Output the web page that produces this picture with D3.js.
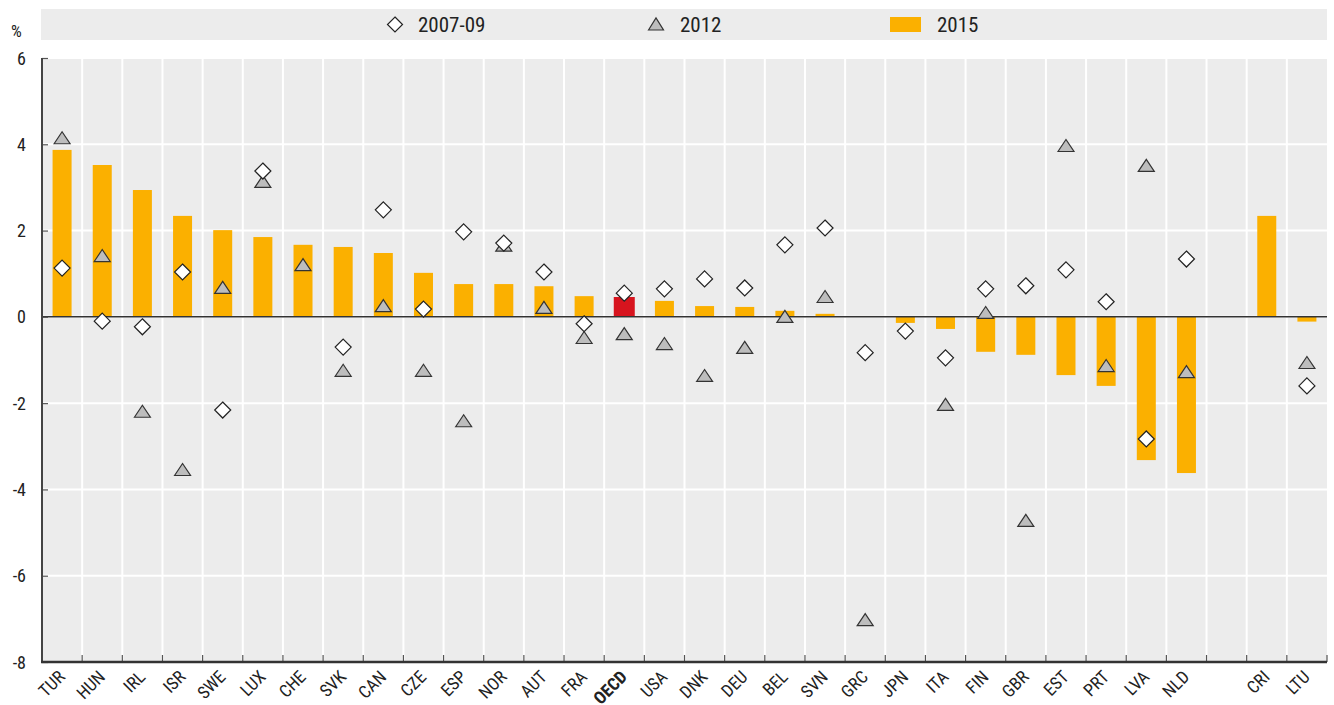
<!DOCTYPE html>
<html>
<head>
<meta charset="utf-8">
<script src="https://cdn.jsdelivr.net/npm/d3@7"></script>
<style>
  body { margin: 0; background: #fff; }
  text { font-family: "Liberation Sans Narrow", "Arial Narrow", "Roboto Condensed", "Liberation Sans", sans-serif; fill: #222; }
</style>
</head>
<body>
<div id="chart"></div>
<script>
    var countries = ["TUR","HUN","IRL","ISR","SWE","LUX","CHE","SVK","CAN","CZE","ESP","NOR","AUT","FRA","OECD",
      "USA","DNK","DEU","BEL","SVN","GRC","JPN","ITA","FIN","GBR","EST","PRT","LVA","NLD","","CRI","LTU"];
    var v2015 = [3.87,3.52,2.94,2.34,2.01,1.85,1.67,1.62,1.48,1.02,0.76,0.76,0.71,0.48,0.46,
      0.37,0.25,0.23,0.14,0.07,0.02,-0.14,-0.28,-0.81,-0.88,-1.35,-1.60,-3.32,-3.62,null,2.34,-0.11];
    var v2007 = [1.13,-0.10,-0.23,1.04,-2.16,3.38,null,-0.70,2.48,0.18,1.97,1.71,1.04,-0.16,0.55,
      0.65,0.88,0.67,1.67,2.06,-0.83,-0.33,-0.95,0.65,0.72,1.09,0.35,-2.83,1.34,null,null,-1.60];
    var v2012 = [4.14,1.41,-2.20,-3.55,0.67,3.13,1.20,-1.25,0.25,-1.25,-2.42,1.65,0.21,-0.49,-0.40,
      -0.63,-1.37,-0.72,0.00,0.46,-7.03,null,-2.04,0.09,-4.73,3.96,-1.14,3.50,-1.28,null,null,-1.07];
    var yTicks = [6,4,2,0,-2,-4,-6,-8];

    var clrBar = "#fbb000";
    var clrOECD = "#d7141e";
    var W = 1334, H = 705;
    var m = { left: 42, right: 7, top: 58, bottom: 43 };

    var svg = d3.select("#chart").append("svg").attr("width", W).attr("height", H);

    var keys = countries.map(function (d, i) { return i; });
    var x = d3.scaleBand().domain(keys).range([m.left, W - m.right]);
    var y = d3.scaleLinear().domain([-8, 6]).range([H - m.bottom, m.top]);

    // legend strip
    svg.append("rect").attr("x", 41).attr("y", 9).attr("width", W - m.right - 41).attr("height", 31).attr("fill", "#ececec");
    var ly = 24.5;
    svg.append("path").attr("d", "M0,-7.5L7.5,0L0,7.5L-7.5,0Z")
      .attr("transform", "translate(395," + ly + ")")
      .attr("fill", "#fff").attr("stroke", "#222").attr("stroke-width", 1.2);
    svg.append("text").attr("x", 418).attr("y", ly + 7.5).style("font-size", "21px").text("2007-09");
    svg.append("path").attr("d", "M-7.5,5.5L0,-6.5L7.5,5.5Z")
      .attr("transform", "translate(656," + ly + ")")
      .attr("fill", "#bdbdbd").attr("stroke", "#333").attr("stroke-width", 1.2);
    svg.append("text").attr("x", 680).attr("y", ly + 7.5).style("font-size", "21px").text("2012");
    svg.append("rect").attr("x", 890).attr("y", 17).attr("width", 31).attr("height", 15).attr("fill", clrBar);
    svg.append("text").attr("x", 937).attr("y", ly + 7.5).style("font-size", "21px").text("2015");

    // plot background
    svg.append("rect").attr("x", m.left).attr("y", m.top)
      .attr("width", W - m.right - m.left).attr("height", H - m.bottom - m.top).attr("fill", "#ececec");

    // grid
    svg.append("g").selectAll("line").data(yTicks.filter(function (t) { return t > -8; }))
      .enter().append("line")
      .attr("x1", m.left).attr("x2", W - m.right)
      .attr("y1", function (d) { return y(d); }).attr("y2", function (d) { return y(d); })
      .attr("stroke", "#fff").attr("stroke-width", 2);
    svg.append("g").selectAll("line").data(keys.slice(1))
      .enter().append("line")
      .attr("x1", function (d) { return x(d); }).attr("x2", function (d) { return x(d); })
      .attr("y1", m.top).attr("y2", H - m.bottom)
      .attr("stroke", "#fff").attr("stroke-width", 2);

    // bars
    svg.append("g").selectAll("rect").data(keys.filter(function (i) { return v2015[i] !== null; }))
      .enter().append("rect")
      .attr("x", function (i) { var w = countries[i] === "OECD" ? 21 : 19; return x(i) + x.bandwidth() / 2 - w / 2; })
      .attr("width", function (i) { return countries[i] === "OECD" ? 21 : 19; })
      .attr("y", function (i) { return y(Math.max(0, v2015[i])); })
      .attr("height", function (i) { return Math.abs(y(v2015[i]) - y(0)); })
      .attr("fill", function (i) { return countries[i] === "OECD" ? clrOECD : clrBar; });

    // zero line
    svg.append("line").attr("x1", m.left).attr("x2", W - m.right)
      .attr("y1", y(0)).attr("y2", y(0)).attr("stroke", "#333").attr("stroke-width", 1.5);

    // axes
    var yAxis = d3.axisRight(y).tickValues(yTicks).tickSize(6).tickFormat("");
    var gy = svg.append("g").attr("transform", "translate(" + m.left + ",0)").call(yAxis);
    gy.select(".domain").remove();
    gy.selectAll("line").attr("stroke", "#555").attr("stroke-width", 1.2);
    svg.append("line").attr("x1", m.left).attr("x2", m.left).attr("y1", m.top).attr("y2", H - m.bottom)
      .attr("stroke", "#444").attr("stroke-width", 2);
    svg.append("g").selectAll("text").data(yTicks).enter().append("text")
      .attr("x", 26).attr("y", function (d) { return y(d) + 6.5; })
      .attr("text-anchor", "end").style("font-size", "18px").text(function (d) { return d; });
    svg.append("text").attr("x", 11).attr("y", 37).style("font-size", "17px").text("%");

    var xTickPos = keys.map(function (i) { return x(i); }).concat([W - m.right]);
    svg.append("g").selectAll("line").data(xTickPos.slice(1)).enter().append("line")
      .attr("x1", function (d) { return d; }).attr("x2", function (d) { return d; })
      .attr("y1", H - m.bottom).attr("y2", H - m.bottom - 7)
      .attr("stroke", "#555").attr("stroke-width", 1.2);
    svg.append("line").attr("x1", m.left - 1).attr("x2", W - m.right)
      .attr("y1", H - m.bottom).attr("y2", H - m.bottom).attr("stroke", "#333").attr("stroke-width", 2.5);

    svg.append("g").selectAll("text").data(keys.filter(function (i) { return countries[i] !== ""; }))
      .enter().append("text")
      .attr("transform", function (i) {
        return "translate(" + (x(i) + x.bandwidth() / 2 + 4) + "," + (H - m.bottom + 16) + ") rotate(-45)";
      })
      .attr("text-anchor", "end")
      .style("font-size", "17.5px")
      .style("font-weight", function (i) { return countries[i] === "OECD" ? "bold" : "normal"; })
      .text(function (i) { return countries[i]; });

    // triangles 2012
    svg.append("g").selectAll("path").data(keys.filter(function (i) { return v2012[i] !== null; }))
      .enter().append("path")
      .attr("d", "M-8,5.5L0,-6.5L8,5.5Z")
      .attr("transform", function (i) { return "translate(" + (x(i) + x.bandwidth() / 2) + "," + y(v2012[i]) + ")"; })
      .attr("fill", "#bdbdbd").attr("stroke", "#333").attr("stroke-width", 1.2);

    // diamonds 2007-09
    svg.append("g").selectAll("path").data(keys.filter(function (i) { return v2007[i] !== null; }))
      .enter().append("path")
      .attr("d", "M0,-8L8,0L0,8L-8,0Z")
      .attr("transform", function (i) { return "translate(" + (x(i) + x.bandwidth() / 2) + "," + y(v2007[i]) + ")"; })
      .attr("fill", "#fff").attr("stroke", "#222").attr("stroke-width", 1.2);
</script>
</body>
</html>
